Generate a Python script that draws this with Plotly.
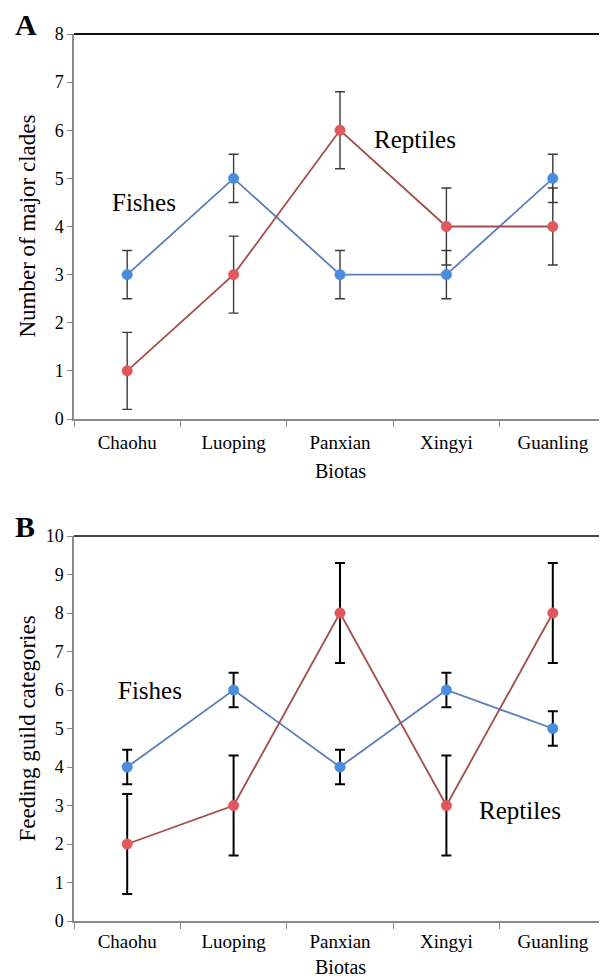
import plotly.graph_objects as go

biotas = ["Chaohu", "Luoping", "Panxian", "Xingyi", "Guanling"]

# Panel A: number of major clades
clades_fishes = [3, 5, 3, 3, 5]
clades_fishes_err = [0.5, 0.5, 0.5, 0.5, 0.5]
clades_reptiles = [1, 3, 6, 4, 4]
clades_reptiles_err = [0.8, 0.8, 0.8, 0.8, 0.8]

# Panel B: feeding guild categories
guild_fishes = [4, 6, 4, 6, 5]
guild_fishes_err = [0.45, 0.45, 0.45, 0.45, 0.45]
guild_reptiles = [2, 3, 8, 3, 8]
guild_reptiles_err = [1.3, 1.3, 1.3, 1.3, 1.3]

FONT = "Liberation Serif"
FISH_LINE = "#5B7DBA"
FISH_MARK = "#4A8CDD"
REP_LINE = "#A24E4B"
REP_MARK = "#E2575B"

# page body has an 8px margin: the figure starts at (8, 8) of the window
OFF = 8
W, H = 607 - OFF, 979 - OFF
L, R = 74 - OFF, 1
PW = W - L - R

fig = go.Figure()

def add_series(y, err, xa, ya, line_c, mark_c, err_c, err_w):
    fig.add_trace(go.Scatter(
        x=biotas, y=y, xaxis=xa, yaxis=ya, mode="lines+markers",
        line=dict(color=line_c, width=1.8),
        marker=dict(size=10.5, color=mark_c, line=dict(color=mark_c, width=0.5)),
        error_y=dict(type="data", array=err, visible=True, color=err_c,
                     thickness=err_w, width=5),
        showlegend=False, hoverinfo="skip"))

add_series(clades_fishes, clades_fishes_err, "x", "y", FISH_LINE, FISH_MARK, "#3a3a3a", 1.4)
add_series(clades_reptiles, clades_reptiles_err, "x", "y", REP_LINE, REP_MARK, "#3a3a3a", 1.4)
add_series(guild_fishes, guild_fishes_err, "x2", "y2", FISH_LINE, FISH_MARK, "#000000", 2)
add_series(guild_reptiles, guild_reptiles_err, "x2", "y2", REP_LINE, REP_MARK, "#000000", 2)

def px_x(px):
    return (px - OFF - L) / PW

def px_y(py):
    return 1 - (py - OFF) / H

dom_a = [px_y(419), px_y(34)]
dom_b = [px_y(921), px_y(536)]

xaxis_common = dict(
    type="category", categoryorder="array", categoryarray=biotas,
    range=[-0.5, 4.5], showgrid=False, zeroline=False, automargin=False,
    showline=True, linecolor="#8a8a8a", linewidth=1.5,
    ticks="outside", tickson="boundaries", ticklen=6, tickcolor="#8a8a8a",
    tickfont=dict(family=FONT, size=19, color="black"),
)
yaxis_common = dict(
    showgrid=False, zeroline=False, showline=True, linecolor="#8a8a8a", linewidth=1.5,
    ticks="outside", ticklen=5, tickcolor="#8a8a8a", dtick=1, automargin=False,
    tickfont=dict(family=FONT, size=18, color="black"),
)

fig.update_layout(
    width=W, height=H,
    margin=dict(l=L, r=R, t=0, b=0, autoexpand=False),
    paper_bgcolor="white", plot_bgcolor="white",
    xaxis=dict(xaxis_common, anchor="y", domain=[0, 1], ticklabelstandoff=5),
    yaxis=dict(yaxis_common, domain=dom_a, range=[0, 8], anchor="x"),
    xaxis2=dict(xaxis_common, anchor="y2", domain=[0, 1], ticklabelstandoff=2),
    yaxis2=dict(yaxis_common, domain=dom_b, range=[0, 10], anchor="x2"),
)

# Box borders (top and right)
fig.add_shape(type="line", xref="paper", yref="paper", x0=0, x1=1, y0=dom_a[1], y1=dom_a[1],
              line=dict(color="#111111", width=2))
fig.add_shape(type="line", xref="paper", yref="paper", x0=1, x1=1, y0=dom_a[0], y1=dom_a[1],
              line=dict(color="#d8d8d8", width=1.5))
fig.add_shape(type="line", xref="paper", yref="paper", x0=0, x1=1, y0=dom_b[1], y1=dom_b[1],
              line=dict(color="#444444", width=2))
fig.add_shape(type="line", xref="paper", yref="paper", x0=1, x1=1, y0=dom_b[0], y1=dom_b[1],
              line=dict(color="#777777", width=1.5))

ann_font = dict(family=FONT, size=25, color="black")
fig.add_annotation(x=px_x(110), y=4.5, xref="paper", yref="y", text="Fishes", showarrow=False,
                   xanchor="left", yanchor="middle", font=ann_font)
fig.add_annotation(x=px_x(372), y=5.8, xref="paper", yref="y", text="Reptiles", showarrow=False,
                   xanchor="left", yanchor="middle", font=ann_font)
fig.add_annotation(x=px_x(116), y=6.0, xref="paper", yref="y2", text="Fishes", showarrow=False,
                   xanchor="left", yanchor="middle", font=ann_font)
fig.add_annotation(x=px_x(477), y=2.86, xref="paper", yref="y2", text="Reptiles", showarrow=False,
                   xanchor="left", yanchor="middle", font=ann_font)

# Panel letters
lab_font = dict(family=FONT, size=30, color="black")
fig.add_annotation(x=px_x(13), y=px_y(25), xref="paper", yref="paper", xanchor="left", yanchor="middle",
                   text="<b>A</b>", showarrow=False, font=lab_font)
fig.add_annotation(x=px_x(13), y=px_y(526), xref="paper", yref="paper", xanchor="left", yanchor="middle",
                   text="<b>B</b>", showarrow=False, font=lab_font)

# Axis titles
title_font = dict(family=FONT, size=20, color="black")
ytitle_font = dict(family=FONT, size=23, color="black")
fig.add_annotation(x=px_x(27), y=(dom_a[0] + dom_a[1]) / 2, xref="paper", yref="paper",
                   text="Number of major clades", textangle=-90, showarrow=False,
                   xanchor="center", yanchor="middle", font=ytitle_font)
fig.add_annotation(x=px_x(27), y=(dom_b[0] + dom_b[1]) / 2, xref="paper", yref="paper",
                   text="Feeding guild categories", textangle=-90, showarrow=False,
                   xanchor="center", yanchor="middle", font=ytitle_font)
fig.add_annotation(x=0.5, y=px_y(471), xref="paper", yref="paper", text="Biotas", showarrow=False,
                   xanchor="center", yanchor="middle", font=title_font)
fig.add_annotation(x=0.5, y=px_y(967), xref="paper", yref="paper", text="Biotas", showarrow=False,
                   xanchor="center", yanchor="middle", font=title_font)

fig.write_html("out.html")
